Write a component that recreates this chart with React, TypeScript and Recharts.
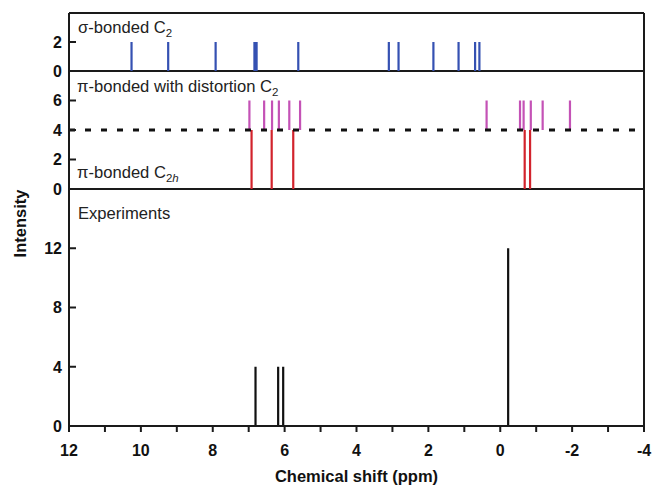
import React from 'react';
import { LineChart, Line, XAxis, YAxis, ReferenceLine } from 'recharts';

// ---- data ----
const xTicks = [12, 11, 10, 9, 8, 7, 6, 5, 4, 3, 2, 1, 0, -1, -2, -3, -4];

const sigmaShifts = [10.26, 9.24, 7.92, 6.84, 6.78, 5.62, 3.1, 2.83, 1.86, 1.16, 0.7, 0.58];
const sigmaIntensity = [2, 2, 2, 2, 2, 2, 2, 2, 2, 2, 2, 2];

const piDistShifts = [6.98, 6.57, 6.35, 6.16, 5.87, 5.57, 0.38, -0.55, -0.65, -0.85, -1.18, -1.94];
const piDistIntensity = [2, 2, 2, 2, 2, 2, 2, 2, 2, 2, 2, 2];
const piDistOffset = 4;

const piC2hShifts = [6.92, 6.36, 5.76, -0.68, -0.83];
const piC2hIntensity = [4, 4, 4, 4, 4];

const expShifts = [6.81, 6.18, 6.04, -0.22];
const expIntensity = [4, 4, 4, 12];

const sigmaTicks = [0, 2];
const piTicks = [0, 2, 4, 6];
const expTicks = [0, 4, 8, 12];

// stick spectra as line series: baseline -> peak, then a gap
const toSticks = (shifts: number[], heights: number[], base = 0) =>
  shifts.flatMap((s, i) => [
    { x: s, y: base },
    { x: s, y: base + heights[i] },
    { x: s, y: null as number | null },
  ]);

const sigmaData = toSticks(sigmaShifts, sigmaIntensity);
const piDistData = toSticks(piDistShifts, piDistIntensity, piDistOffset);
const piC2hData = toSticks(piC2hShifts, piC2hIntensity);
const expData = toSticks(expShifts, expIntensity);

// ---- style ----
const W = 652;
const H = 485;
const FONT = "'Liberation Sans', Arial, sans-serif";
const BORDER = '#1a1a1a';
const margin = { left: 19, right: 8 };
const Y_W = 50;

const YTick = (props: any) => {
  const { x, y, payload } = props;
  const ax = x + 7;
  return (
    <g>
      <line x1={ax} x2={ax + 7} y1={y} y2={y} stroke={BORDER} strokeWidth={2} />
      <text x={x} y={y} dy="0.36em" textAnchor="end" fontFamily={FONT} fontWeight="bold" fontSize={16} fill="#111">
        {payload.value}
      </text>
    </g>
  );
};

const xAxisCommon = {
  type: 'number' as const,
  dataKey: 'x',
  domain: [-4, 12],
  reversed: true,
  ticks: xTicks,
  allowDataOverflow: true,
};

const yAxisCommon = {
  type: 'number' as const,
  dataKey: 'y',
  width: Y_W,
  axisLine: { stroke: BORDER, strokeWidth: 2 },
  tickLine: false,
  tickSize: 0,
  tickMargin: 7,
  interval: 0,
  allowDataOverflow: true,
};

const stickLine = (data: any[], color: string, key: string) => (
  <Line
    key={key}
    data={data}
    dataKey="y"
    type="linear"
    stroke={color}
    strokeWidth={2.2}
    dot={false}
    activeDot={false}
    connectNulls={false}
    isAnimationActive={false}
    strokeLinecap="butt"
  />
);

const chartStyle: React.CSSProperties = { position: 'absolute', left: 0, top: 0 };

export default function App() {
  return (
    <div style={{ position: 'absolute', left: 0, top: 0, width: W, height: H, background: '#fff' }}>
      {/* Panel 1: sigma-bonded */}
      <div style={chartStyle}>
        <LineChart width={W} height={H} margin={{ top: 13, bottom: H - 71, ...margin }}>
          <XAxis {...xAxisCommon} hide />
          <YAxis {...yAxisCommon} domain={[0, 4]} ticks={sigmaTicks} tick={<YTick />} />
          <ReferenceLine y={4} stroke={BORDER} strokeWidth={2} ifOverflow="visible" />
          <ReferenceLine y={0} stroke={BORDER} strokeWidth={2} ifOverflow="visible" />
          <ReferenceLine x={-4} stroke={BORDER} strokeWidth={2} ifOverflow="visible" />
          {stickLine(sigmaData, '#3551b2', 'sig')}
        </LineChart>
      </div>

      {/* Panel 2: pi-bonded */}
      <div style={chartStyle}>
        <LineChart width={W} height={H} margin={{ top: 71, bottom: H - 189, ...margin }}>
          <XAxis {...xAxisCommon} hide />
          <YAxis {...yAxisCommon} domain={[0, 8]} ticks={piTicks} tick={<YTick />} />
          <ReferenceLine y={0} stroke={BORDER} strokeWidth={2} ifOverflow="visible" />
          <ReferenceLine x={-4} stroke={BORDER} strokeWidth={2} ifOverflow="visible" />
          {stickLine(piC2hData, '#d2232c', 'c2h')}
          {stickLine(piDistData, '#c452b6', 'dist')}
          <ReferenceLine y={piDistOffset} stroke="#111" strokeWidth={3} strokeDasharray="6 10" ifOverflow="visible" />
        </LineChart>
      </div>

      {/* Panel 3: experiments */}
      <div style={chartStyle}>
        <LineChart width={W} height={H} margin={{ top: 189, bottom: 0, ...margin }}>
          <XAxis
            {...xAxisCommon}
            height={59}
            interval={0}
            axisLine={{ stroke: BORDER, strokeWidth: 2 }}
            tickLine={{ stroke: BORDER, strokeWidth: 2 }}
            tickSize={6}
            tickMargin={13}
            tickFormatter={(v: number) => (v % 2 === 0 ? String(v) : '')}
            tick={{ fontFamily: FONT, fontWeight: 'bold', fontSize: 16, fill: '#111' }}
            label={{
              value: 'Chemical shift (ppm)',
              position: 'insideBottom',
              offset: 3,
              style: { fontFamily: FONT, fontWeight: 'bold', fontSize: 16.5, fill: '#111' },
            }}
          />
          <YAxis
            {...yAxisCommon}
            domain={[0, 16]}
            ticks={expTicks}
            tick={<YTick />}
            label={{
              value: 'Intensity',
              angle: -90,
              position: 'center',
              dx: -24,
              dy: -84,
              style: { fontFamily: FONT, fontWeight: 'bold', fontSize: 16.5, fill: '#111', textAnchor: 'middle' },
            }}
          />
          <ReferenceLine x={-4} stroke={BORDER} strokeWidth={2} ifOverflow="visible" />
          {stickLine(expData, '#111', 'exp')}
        </LineChart>
      </div>

      {/* Panel labels */}
      <svg width={W} height={H} style={{ position: 'absolute', left: 0, top: 0, pointerEvents: 'none' }}>
        <g fontFamily={FONT} fontSize={16.6} fill="#222">
          <text x={78} y={33}>
            σ-bonded C<tspan fontSize={11.5} dy={4}>2</tspan>
          </text>
          <text x={77} y={92}>
            π-bonded with distortion C<tspan fontSize={11.5} dy={4}>2</tspan>
          </text>
          <text x={77} y={178}>
            π-bonded C<tspan fontSize={11.5} dy={4}>2</tspan>
            <tspan fontSize={11.5} fontStyle="italic">h</tspan>
          </text>
          <text x={78} y={219}>Experiments</text>
        </g>
      </svg>
    </div>
  );
}
